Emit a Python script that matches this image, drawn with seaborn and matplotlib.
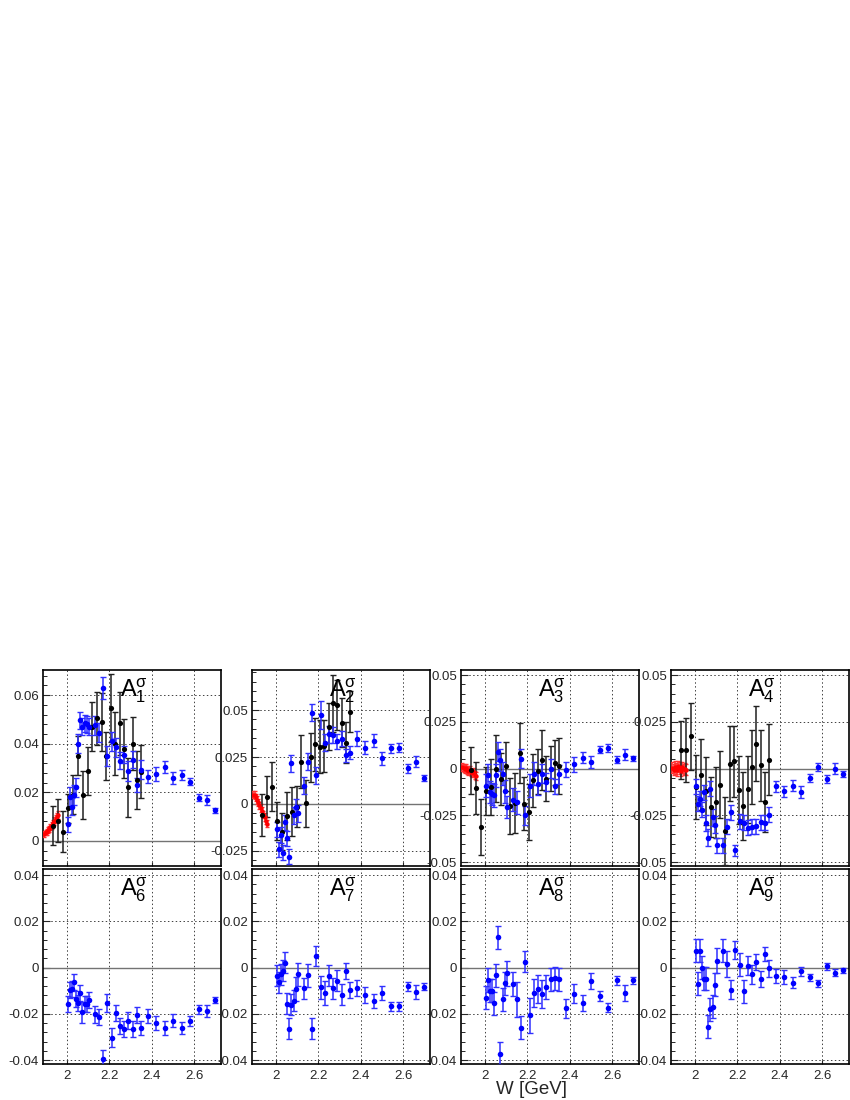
import numpy as np
import pandas as pd
import seaborn as sns
import matplotlib.pyplot as plt
from matplotlib.ticker import FuncFormatter, AutoMinorLocator

# W values (GeV) of the three data sets
W_red = [1.893, 1.899, 1.905, 1.911, 1.917, 1.922, 1.928, 1.934, 1.940, 1.946, 1.951, 1.957]
W_black = [1.935, 1.958, 1.982, 2.005, 2.028, 2.051, 2.074, 2.097, 2.119, 2.141,
           2.163, 2.185, 2.206, 2.227, 2.248, 2.269, 2.290, 2.310, 2.331, 2.351]
W_blue = [2.005, 2.014, 2.023, 2.033, 2.043, 2.053, 2.063, 2.073, 2.083, 2.093, 2.106,
          2.13, 2.15, 2.17, 2.19, 2.21, 2.23, 2.25, 2.27, 2.29, 2.31, 2.33, 2.35,
          2.38, 2.42, 2.46, 2.50, 2.54, 2.58, 2.62, 2.66, 2.70]

# A1
a1_red = [0.0030, 0.0035, 0.0038, 0.0045, 0.0050, 0.0058, 0.0065, 0.0072, 0.0082, 0.0090, 0.0100, 0.0108]
a1_red_err = [0.0012, 0.0012, 0.0012, 0.0012, 0.0013, 0.0013, 0.0014, 0.0014, 0.0015, 0.0015, 0.0016, 0.0016]
a1_black = [0.0062, 0.0084, 0.0038, 0.0134, 0.0190, 0.0350, 0.0189, 0.0288, 0.0470, 0.0504,
            0.0490, 0.0350, 0.0545, 0.0400, 0.0484, 0.0380, 0.0220, 0.0400, 0.0250, 0.0285]
a1_black_err = [0.008, 0.009, 0.0085, 0.006, 0.008, 0.008, 0.010, 0.010, 0.010, 0.011,
                0.012, 0.010, 0.014, 0.013, 0.013, 0.012, 0.012, 0.011, 0.012, 0.011]
a1_blue = [0.0068, 0.0182, 0.0141, 0.0189, 0.0220, 0.0400, 0.0497, 0.0470, 0.0484, 0.0480, 0.0470,
           0.0475, 0.0445, 0.0630, 0.0350, 0.0410, 0.0385, 0.0330, 0.0355, 0.0288, 0.0333, 0.0230,
           0.0293, 0.0265, 0.0275, 0.0305, 0.0260, 0.0270, 0.0244, 0.0178, 0.0168, 0.0127]
a1_blue_err = [0.003, 0.004, 0.0035, 0.004, 0.004, 0.004, 0.0035, 0.0035, 0.0035, 0.0035, 0.0035,
               0.004, 0.004, 0.0045, 0.004, 0.004, 0.004, 0.0035, 0.0035, 0.004, 0.0035, 0.003,
               0.004, 0.0025, 0.003, 0.0025, 0.0025, 0.002, 0.0015, 0.0015, 0.002, 0.001]

# A2
a2_red = [0.0050, 0.0048, 0.0035, 0.0022, 0.0008, -0.0008, -0.0022, -0.0038, -0.0055, -0.0070, -0.0088, -0.0105]
a2_red_err = [0.002, 0.002, 0.002, 0.002, 0.002, 0.002, 0.002, 0.002, 0.002, 0.002, 0.002, 0.002]
a2_black = [-0.0059, 0.0039, 0.0092, -0.0090, -0.0147, -0.0064, -0.0040, -0.0014, 0.0225, 0.0004,
            0.0248, 0.0317, 0.0305, 0.0308, 0.0411, 0.0535, 0.0527, 0.0433, 0.0326, 0.0491]
a2_black_err = [0.011, 0.011, 0.013, 0.010, 0.010, 0.013, 0.013, 0.011, 0.014, 0.0125,
                0.013, 0.014, 0.014, 0.014, 0.0125, 0.015, 0.0135, 0.013, 0.011, 0.011]
a2_blue = [-0.0135, -0.0240, -0.0165, -0.0260, -0.0098, -0.0183, -0.0280, 0.0216, -0.0059, -0.0014, -0.0050,
           0.0096, 0.0225, 0.0486, 0.0154, 0.0473, 0.0326, 0.0372, 0.0367, 0.0335, 0.0346, 0.0260,
           0.0273, 0.0346, 0.0300, 0.0337, 0.0243, 0.0296, 0.0300, 0.0190, 0.0225, 0.0137]
a2_blue_err = [0.004, 0.004, 0.004, 0.004, 0.004, 0.004, 0.004, 0.0045, 0.0045, 0.004, 0.0045,
               0.0045, 0.0045, 0.0045, 0.0045, 0.0075, 0.0045, 0.0045, 0.0045, 0.004, 0.004, 0.0035,
               0.0035, 0.004, 0.0035, 0.0035, 0.0035, 0.0025, 0.0025, 0.0025, 0.003, 0.0015]

# A3
a3_red = [0.0008, 0.0003, -0.0002, 0.0004, -0.0008, -0.0012, -0.0006, -0.0020, -0.0025, -0.0018, -0.0035, -0.0040]
a3_red_err = [0.002, 0.002, 0.002, 0.002, 0.002, 0.002, 0.002, 0.002, 0.002, 0.002, 0.002, 0.002]
a3_black = [-0.0009, -0.0104, -0.0310, -0.0120, -0.0100, 0.0000, -0.0054, 0.0013, -0.0200, -0.0184,
            0.0084, -0.0187, -0.0230, -0.0063, -0.0013, 0.0048, -0.0054, 0.0000, 0.0032, 0.0013]
a3_black_err = [0.0125, 0.014, 0.015, 0.013, 0.015, 0.018, 0.014, 0.013, 0.015, 0.016,
                0.016, 0.014, 0.015, 0.014, 0.012, 0.016, 0.012, 0.012, 0.012, 0.015]
a3_blue = [-0.0090, -0.0036, -0.0125, -0.0134, -0.0143, -0.0036, 0.0090, 0.0045, -0.0027, -0.0121, -0.0205,
           -0.0166, -0.0180, 0.0054, -0.0250, -0.0090, -0.0027, -0.0080, -0.0027, -0.0071, 0.0000, -0.0095,
           -0.0030, -0.0005, 0.0023, 0.0059, 0.0036, 0.0102, 0.0110, 0.0048, 0.0075, 0.0055]
a3_blue_err = [0.006, 0.006, 0.006, 0.006, 0.006, 0.006, 0.005, 0.006, 0.006, 0.006, 0.006,
               0.006, 0.006, 0.005, 0.005, 0.006, 0.006, 0.006, 0.005, 0.005, 0.005, 0.004,
               0.005, 0.004, 0.004, 0.003, 0.003, 0.002, 0.002, 0.002, 0.003, 0.0015]

# A4
a4_red = [0.0005, -0.0005, 0.0010, 0.0000, -0.0008, 0.0012, 0.0003, -0.0010, 0.0008, -0.0003, 0.0000, -0.0006]
a4_red_err = [0.003, 0.003, 0.003, 0.003, 0.003, 0.003, 0.003, 0.003, 0.003, 0.003, 0.003, 0.003]
a4_black = [0.0098, 0.0098, 0.0173, -0.0098, -0.0032, -0.0120, -0.0205, -0.0180, -0.0086, -0.0334,
            0.0027, 0.0039, -0.0114, -0.0200, -0.0110, 0.0009, 0.0134, 0.0018, -0.0180, 0.0048]
a4_black_err = [0.0155, 0.017, 0.018, 0.017, 0.019, 0.018, 0.016, 0.019, 0.018, 0.018,
                0.020, 0.019, 0.018, 0.018, 0.018, 0.020, 0.020, 0.019, 0.016, 0.019]
a4_blue = [-0.0095, -0.0188, -0.0160, -0.0220, -0.0125, -0.0290, -0.0370, -0.0107, -0.0260, -0.0300, -0.0410,
           -0.0410, -0.0310, -0.0232, -0.0437, -0.0282, -0.0290, -0.0316, -0.0310, -0.0307, -0.0287, -0.0290,
           -0.0245, -0.0095, -0.0120, -0.0091, -0.0125, -0.0050, 0.0010, -0.0054, 0.0000, -0.0027]
a4_blue_err = [0.004, 0.004, 0.004, 0.004, 0.004, 0.0045, 0.0045, 0.004, 0.0045, 0.0045, 0.004,
               0.004, 0.004, 0.004, 0.003, 0.004, 0.004, 0.004, 0.004, 0.004, 0.004, 0.004,
               0.004, 0.003, 0.003, 0.003, 0.003, 0.002, 0.002, 0.002, 0.003, 0.0015]

# A6 - A9 (blue only)
a6_blue = [-0.0157, -0.0097, -0.0093, -0.0064, -0.0136, -0.0154, -0.0110, -0.0193, -0.0157, -0.0157, -0.0140,
           -0.0203, -0.0214, -0.0397, -0.0154, -0.0303, -0.0197, -0.0253, -0.0264, -0.0229, -0.0264, -0.0206,
           -0.0261, -0.0210, -0.0240, -0.0260, -0.0229, -0.0261, -0.0231, -0.0181, -0.0187, -0.0140]
a6_blue_err = [0.0035, 0.0035, 0.0035, 0.0035, 0.0035, 0.0035, 0.0035, 0.0045, 0.0035, 0.0035, 0.0035,
               0.0035, 0.0035, 0.004, 0.004, 0.004, 0.0035, 0.0035, 0.0035, 0.0035, 0.0035, 0.0035,
               0.003, 0.003, 0.003, 0.003, 0.003, 0.0025, 0.002, 0.002, 0.0025, 0.0012]
a7_blue = [-0.0036, -0.0064, -0.0029, -0.0014, 0.0021, -0.0157, -0.0264, -0.0161, -0.0143, -0.0093, -0.0029,
           -0.0090, -0.0033, -0.0264, 0.0050, -0.0086, -0.0110, -0.0036, -0.0089, -0.0057, -0.0117, -0.0014,
           -0.0096, -0.0090, -0.0117, -0.0143, -0.0110, -0.0167, -0.0167, -0.0081, -0.0104, -0.0083]
a7_blue_err = [0.0045, 0.0045, 0.0045, 0.0045, 0.0045, 0.0045, 0.0045, 0.0045, 0.0045, 0.005, 0.005,
               0.0045, 0.005, 0.0045, 0.0045, 0.005, 0.005, 0.0045, 0.0045, 0.0045, 0.0045, 0.0035,
               0.0035, 0.0035, 0.0035, 0.003, 0.003, 0.002, 0.002, 0.002, 0.003, 0.0015]
a8_blue = [-0.0130, -0.0054, -0.0100, -0.0100, -0.0155, -0.0033, 0.0130, -0.0372, -0.0138, -0.0068, -0.0025,
           -0.0071, -0.0138, -0.0260, 0.0025, -0.0207, -0.0109, -0.0094, -0.0113, -0.0084, -0.0051, -0.0046,
           -0.0051, -0.0177, -0.0113, -0.0152, -0.0058, -0.0123, -0.0174, -0.0055, -0.0109, -0.0054]
a8_blue_err = [0.005, 0.005, 0.005, 0.005, 0.005, 0.005, 0.005, 0.005, 0.005, 0.005, 0.0055,
               0.005, 0.0075, 0.005, 0.0045, 0.0075, 0.006, 0.006, 0.006, 0.005, 0.005, 0.005,
               0.005, 0.004, 0.004, 0.0035, 0.0035, 0.002, 0.002, 0.002, 0.0035, 0.0015]
a9_blue = [0.0072, -0.0070, 0.0072, 0.0000, -0.0048, -0.0048, -0.0255, -0.0180, -0.0170, -0.0075, 0.0030,
           0.0072, 0.0015, -0.0095, 0.0075, 0.0012, -0.0103, 0.0008, -0.0030, 0.0025, -0.0050, 0.0058,
           -0.0004, -0.0038, -0.0040, -0.0065, -0.0017, -0.0043, -0.0068, 0.0005, -0.0022, -0.0012]
a9_blue_err = [0.005, 0.005, 0.005, 0.005, 0.005, 0.005, 0.005, 0.005, 0.005, 0.005, 0.0055,
               0.005, 0.0055, 0.004, 0.004, 0.005, 0.005, 0.004, 0.004, 0.0035, 0.0035, 0.003,
               0.0035, 0.003, 0.003, 0.0025, 0.002, 0.0015, 0.0015, 0.0015, 0.0015, 0.001]

sns.set_style('ticks')
plt.rcParams['font.family'] = ['Liberation Sans', 'DejaVu Sans']
plt.rcParams['mathtext.fontset'] = 'custom'
plt.rcParams['mathtext.rm'] = 'Liberation Sans'

BLUE = '#0000ff'


def draw_set(ax, w, v, e, color, ms, ecolor, cap):
    df = pd.DataFrame({'W': w, 'A': v, 'err': e})
    ax.errorbar(df['W'], df['A'], yerr=df['err'], fmt='none', ecolor=ecolor,
                elinewidth=1.1, capsize=cap, capthick=1.0, zorder=3)
    sns.scatterplot(data=df, x='W', y='A', ax=ax, color=color, s=ms,
                    marker='o', edgecolor=color, linewidth=0, zorder=4, legend=False)


def style_panel(ax, ylim, yticks, label, xlabels):
    ax.set_xlim(1.887, 2.726)
    ax.set_ylim(*ylim)
    ax.set_xticks([2.0, 2.2, 2.4, 2.6])
    ax.set_yticks(yticks)
    ax.yaxis.set_minor_locator(AutoMinorLocator(5))
    ax.grid(True, which='major', linestyle=(0, (1.5, 2.5)), color='0.25', linewidth=0.7)
    ax.axhline(0, color='0.45', lw=1.0, zorder=1)
    ax.yaxis.set_major_formatter(FuncFormatter(lambda v, p: '%g' % round(v, 4)))
    ax.xaxis.set_major_formatter(FuncFormatter(lambda v, p: '%g' % round(v, 2)))
    ax.tick_params(axis='y', which='major', direction='in', length=5, width=0.8,
                   labelsize=9.5, pad=3, left=True)
    ax.tick_params(axis='y', which='minor', direction='in', length=3, width=0.7, left=True)
    ax.tick_params(axis='x', which='major', direction='in', length=3, width=0.8,
                   labelsize=9.5, pad=4)
    if not xlabels:
        ax.tick_params(axis='x', labelbottom=False)
    for s in ax.spines.values():
        s.set_linewidth(1.2)
        s.set_color('black')
    ax.set_xlabel('')
    ax.set_ylabel('')
    ax.text(0.43, 0.865, label, transform=ax.transAxes, fontsize=17,
            ha='left', va='baseline', color='black', zorder=6)


fig = plt.figure(figsize=(8.5, 11), dpi=100)
lefts = [43, 252, 461, 671]
W_PX, H_PX = 178, 196

top = [
    (a1_red, a1_red_err, a1_black, a1_black_err, a1_blue, a1_blue_err,
     (-0.0103, 0.0703), [0, 0.02, 0.04, 0.06], r'$\mathregular{A^{\sigma}_{1}}$'),
    (a2_red, a2_red_err, a2_black, a2_black_err, a2_blue, a2_blue_err,
     (-0.033, 0.0713), [-0.025, 0, 0.025, 0.05], r'$\mathregular{A^{\sigma}_{2}}$'),
    (a3_red, a3_red_err, a3_black, a3_black_err, a3_blue, a3_blue_err,
     (-0.052, 0.0527), [-0.05, -0.025, 0, 0.025, 0.05], r'$\mathregular{A^{\sigma}_{3}}$'),
    (a4_red, a4_red_err, a4_black, a4_black_err, a4_blue, a4_blue_err,
     (-0.052, 0.0527), [-0.05, -0.025, 0, 0.025, 0.05], r'$\mathregular{A^{\sigma}_{4}}$'),
]
for i, (rv, re, kv, ke, bv, be, ylim, yt, lab) in enumerate(top):
    ax = fig.add_axes([lefts[i] / 850, 1 - 866 / 1100, W_PX / 850, H_PX / 1100])
    draw_set(ax, W_red, rv, re, '#ff0000', 10, '#ff3030', 1.2)
    draw_set(ax, W_black, kv, ke, 'black', 14, '#202020', 2.0)
    draw_set(ax, W_blue, bv, be, BLUE, 16, '#3030ff', 2.0)
    style_panel(ax, ylim, yt, lab, False)

bottom = [
    (a6_blue, a6_blue_err, r'$\mathregular{A^{\sigma}_{6}}$'),
    (a7_blue, a7_blue_err, r'$\mathregular{A^{\sigma}_{7}}$'),
    (a8_blue, a8_blue_err, r'$\mathregular{A^{\sigma}_{8}}$'),
    (a9_blue, a9_blue_err, r'$\mathregular{A^{\sigma}_{9}}$'),
]
for i, (bv, be, lab) in enumerate(bottom):
    ax = fig.add_axes([lefts[i] / 850, 1 - 1064 / 1100, W_PX / 850, 195 / 1100])
    draw_set(ax, W_blue, bv, be, BLUE, 16, '#3030ff', 2.0)
    style_panel(ax, (-0.0417, 0.0426), [-0.04, -0.02, 0, 0.02, 0.04], lab, True)

fig.text(532 / 850, 1 - 1090 / 1100, 'W [GeV]', fontsize=13.5, ha='center', va='center')

fig.savefig('out.png', dpi=100)
